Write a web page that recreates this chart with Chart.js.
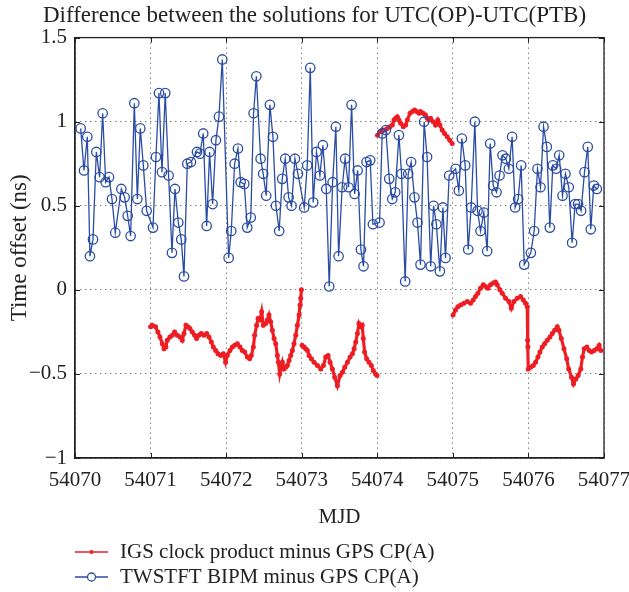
<!DOCTYPE html>
<html>
<head>
<meta charset="utf-8">
<script src="https://cdn.jsdelivr.net/npm/chart.js@4.4.0/dist/chart.umd.min.js"></script>
<style>
html, body { margin: 0; padding: 0; background: #fff; }
#wrap { width: 629px; height: 592px; }
</style>
</head>
<body>
<div id="wrap"><canvas id="chart"></canvas></div>
<script>
// IGS clock product minus GPS CP(A), null = break between daily files
const igsMjd = [
  54071.000, 54071.022, 54071.066, 54071.097, 54071.124, 54071.155, 54071.177, 54071.203, 54071.221, 54071.256,
  54071.287, 54071.318, 54071.353, 54071.389, 54071.419, 54071.442, 54071.468, 54071.494, 54071.521, 54071.552,
  54071.583, 54071.609, 54071.640, 54071.671, 54071.706, 54071.742, 54071.773, 54071.804, 54071.830, 54071.861,
  54071.892, 54071.927, 54071.962, 54071.993, 54072.015, 54072.051, 54072.082, 54072.113, 54072.148, 54072.183,
  54072.214, 54072.245, 54072.280, 54072.311, 54072.333, 54072.360, 54072.377, 54072.404, 54072.422, 54072.448,
  54072.470, 54072.492, 54072.523, 54072.545, 54072.567, 54072.589, 54072.611, 54072.634, 54072.656, 54072.678,
  54072.691, 54072.709, 54072.722, 54072.744, 54072.766, 54072.788, 54072.810, 54072.832, 54072.854, 54072.876,
  54072.898, 54072.921, 54072.943, 54072.965, 54072.978, 54072.987, 54072.996,
  54073.000,
  54073.005, 54073.031, 54073.053, 54073.075, 54073.097, 54073.128, 54073.163, 54073.208, 54073.252, 54073.287,
  54073.318, 54073.349, 54073.375, 54073.406, 54073.437, 54073.472, 54073.508, 54073.539, 54073.570, 54073.605,
  54073.640, 54073.671, 54073.693, 54073.715, 54073.737, 54073.757, 54073.779, 54073.801, 54073.815, 54073.832,
  54073.859, 54073.890, 54073.921, 54073.947, 54073.978, 54073.996,
  54074.000,
  54074.003, 54074.035, 54074.066, 54074.097, 54074.132, 54074.168, 54074.199, 54074.221, 54074.243, 54074.265,
  54074.287, 54074.309, 54074.344, 54074.375, 54074.397, 54074.433, 54074.464, 54074.494, 54074.521, 54074.552,
  54074.572, 54074.607, 54074.638, 54074.660, 54074.682, 54074.704, 54074.740, 54074.770, 54074.801, 54074.828,
  54074.859, 54074.890, 54074.925, 54074.960, 54074.991,
  54075.000,
  54075.003, 54075.035, 54075.066, 54075.102, 54075.146, 54075.190, 54075.234, 54075.269, 54075.300, 54075.331,
  54075.366, 54075.402, 54075.433, 54075.464, 54075.499, 54075.534, 54075.565, 54075.587, 54075.623, 54075.653,
  54075.698, 54075.742, 54075.773, 54075.808, 54075.852, 54075.896, 54075.932, 54075.962, 54075.985, 54075.989,
  54075.993, 54075.998, 54076.029, 54076.064, 54076.095, 54076.126, 54076.152, 54076.183, 54076.214, 54076.249,
  54076.285, 54076.316, 54076.347, 54076.382, 54076.404, 54076.435, 54076.470, 54076.506, 54076.532, 54076.570,
  54076.596, 54076.627, 54076.658, 54076.693, 54076.715, 54076.738, 54076.773, 54076.804, 54076.835, 54076.870,
  54076.905, 54076.936, 54076.958
];
const igsOffset = [
  -0.22, -0.21, -0.22, -0.25, -0.28, -0.32, -0.35, -0.34, -0.30, -0.28,
  -0.27, -0.25, -0.27, -0.28, -0.30, -0.26, -0.21, -0.22, -0.23, -0.25,
  -0.27, -0.29, -0.27, -0.26, -0.27, -0.26, -0.28, -0.31, -0.34, -0.36,
  -0.38, -0.39, -0.38, -0.43, -0.39, -0.36, -0.34, -0.33, -0.32, -0.34,
  -0.36, -0.37, -0.40, -0.41, -0.39, -0.34, -0.27, -0.21, -0.17, -0.18,
  -0.13, -0.21, -0.20, -0.18, -0.15, -0.19, -0.24, -0.29, -0.32, -0.39,
  -0.43, -0.50, -0.47, -0.43, -0.47, -0.46, -0.45, -0.42, -0.39, -0.36,
  -0.32, -0.27, -0.21, -0.15, -0.09, -0.05, 0.00,
  null,
  -0.33, -0.34, -0.35, -0.36, -0.39, -0.41, -0.43, -0.45, -0.47, -0.45,
  -0.40, -0.39, -0.43, -0.47, -0.52, -0.57, -0.51, -0.49, -0.46, -0.43,
  -0.40, -0.38, -0.35, -0.31, -0.26, -0.20, -0.22, -0.21, -0.29, -0.37,
  -0.41, -0.43, -0.45, -0.48, -0.50, -0.51,
  null,
  0.92, 0.94, 0.95, 0.95, 0.96, 0.97, 0.98, 1.01, 1.02, 1.03,
  1.01, 0.99, 0.97, 0.98, 1.01, 1.05, 1.06, 1.07, 1.06, 1.05,
  1.06, 1.05, 1.04, 1.02, 1.01, 1.02, 1.00, 0.98, 1.01, 0.98,
  0.95, 0.93, 0.91, 0.89, 0.87,
  null,
  -0.15, -0.12, -0.10, -0.09, -0.08, -0.07, -0.08, -0.06, -0.04, -0.02,
  0.01, 0.03, 0.02, 0.01, 0.03, 0.04, 0.046, 0.03, 0.00, -0.02,
  -0.05, -0.07, -0.11, -0.07, -0.05, -0.04, -0.06, -0.08, -0.10, -0.30,
  -0.34, -0.47, -0.46, -0.45, -0.43, -0.40, -0.37, -0.34, -0.32, -0.30,
  -0.28, -0.26, -0.24, -0.22, -0.24, -0.29, -0.35, -0.41, -0.47, -0.52,
  -0.56, -0.53, -0.51, -0.47, -0.40, -0.35, -0.34, -0.36, -0.37, -0.36,
  -0.35, -0.33, -0.36
];

// TWSTFT BIPM minus GPS CP(A), hourly
const twMjd = [
  54070.075, 54070.119, 54070.163, 54070.198, 54070.238, 54070.282, 54070.326, 54070.366, 54070.406, 54070.450,
  54070.489, 54070.533, 54070.613, 54070.657, 54070.697, 54070.736, 54070.785, 54070.825, 54070.864, 54070.904,
  54070.948, 54071.032, 54071.071, 54071.111, 54071.151, 54071.194, 54071.239, 54071.283, 54071.323, 54071.367,
  54071.406, 54071.442, 54071.486, 54071.534, 54071.614, 54071.653, 54071.697, 54071.742, 54071.781, 54071.821,
  54071.865, 54071.905, 54071.949, 54072.033, 54072.068, 54072.112, 54072.156, 54072.192, 54072.240, 54072.279,
  54072.326, 54072.363, 54072.400, 54072.456, 54072.490, 54072.530, 54072.579, 54072.619, 54072.659, 54072.702,
  54072.742, 54072.782, 54072.827, 54072.866, 54072.910, 54072.950, 54073.033, 54073.073, 54073.113, 54073.152,
  54073.196, 54073.241, 54073.280, 54073.325, 54073.364, 54073.409, 54073.452, 54073.488, 54073.535, 54073.574,
  54073.620, 54073.660, 54073.700, 54073.740, 54073.783, 54073.818, 54073.858, 54073.906, 54073.942, 54074.030,
  54074.065, 54074.114, 54074.158, 54074.198, 54074.237, 54074.286, 54074.321, 54074.369, 54074.409, 54074.448,
  54074.492, 54074.532, 54074.572, 54074.620, 54074.659, 54074.707, 54074.745, 54074.782, 54074.828, 54074.868,
  54074.903, 54074.951, 54075.036, 54075.079, 54075.119, 54075.163, 54075.203, 54075.242, 54075.291, 54075.327,
  54075.366, 54075.410, 54075.454, 54075.494, 54075.534, 54075.578, 54075.618, 54075.657, 54075.701, 54075.741,
  54075.784, 54075.824, 54075.864, 54075.904, 54075.944, 54076.032, 54076.076, 54076.120, 54076.160, 54076.200,
  54076.243, 54076.283, 54076.323, 54076.367, 54076.407, 54076.451, 54076.490, 54076.534, 54076.578, 54076.618,
  54076.657, 54076.697, 54076.742, 54076.785, 54076.825, 54076.865, 54076.905
];
const twOffset = [
  0.96, 0.71, 0.91, 0.20, 0.30, 0.82, 0.67, 1.05, 0.64, 0.67,
  0.54, 0.34, 0.60, 0.55, 0.44, 0.32, 1.11, 0.54, 0.96, 0.74,
  0.47, 0.37, 0.79, 1.17, 0.70, 1.17, 0.68, 0.22, 0.60, 0.40,
  0.30, 0.08, 0.75, 0.76, 0.82, 0.81, 0.93, 0.38, 0.82, 0.51,
  0.89, 1.03, 1.37, 0.19, 0.35, 0.75, 0.84, 0.64, 0.63, 0.37,
  0.43, 1.05, 1.27, 0.78, 0.69, 0.56, 1.10, 0.91, 0.50, 0.35,
  0.66, 0.78, 0.55, 0.50, 0.78, 0.69, 0.49, 0.74, 1.32, 0.52,
  0.82, 0.68, 0.86, 0.60, 0.02, 0.64, 0.97, 0.20, 0.61, 0.78,
  0.61, 1.10, 0.57, 0.71, 0.24, 0.14, 0.76, 0.77, 0.39, 0.40,
  0.93, 0.95, 0.66, 0.54, 0.58, 0.92, 0.69, 0.05, 0.69, 0.76,
  0.55, 0.40, 0.15, 1.00, 0.79, 0.14, 0.50, 0.39, 0.11, 0.49,
  0.19, 0.68, 0.72, 0.59, 0.90, 0.74, 0.24, 0.49, 1.00, 0.47,
  0.35, 0.46, 0.23, 0.87, 0.62, 0.58, 0.68, 0.80, 0.78, 0.72,
  0.91, 0.49, 0.54, 0.74, 0.15, 0.22, 0.35, 0.72, 0.61, 0.97,
  0.85, 0.37, 0.74, 0.72, 0.80, 0.56, 0.69, 0.61, 0.28, 0.51,
  0.51, 0.47, 0.70, 0.85, 0.36, 0.62, 0.60
];

const mjdTicks = [54070, 54071, 54072, 54073, 54074, 54075, 54076, 54077];
const offsetTicks = [-1, -0.5, 0, 0.5, 1, 1.5];

const FONT = '"Liberation Serif", "DejaVu Serif", serif';
const RED = '#ee1d23';
const BLUE = '#2a4ca4';

const toPoints = (xs, ys) => xs.map((x, i) => ({x, y: ys[i]}));
const fmt = (v) => (v < 0 ? '\u2212' + Math.abs(v) : String(v));

// MATLAB-style box with inward ticks
const framePlugin = {
    id: 'frame',
    afterDraw(chart) {
        const {ctx, chartArea: a, scales} = chart;
        ctx.save();
        ctx.strokeStyle = '#222';
        ctx.lineWidth = 1.3;
        ctx.strokeRect(a.left, a.top, a.right - a.left, a.bottom - a.top);
        ctx.lineWidth = 1;
        ctx.beginPath();
        mjdTicks.forEach(t => {
            const px = Math.round(scales.x.getPixelForValue(t)) + 0.5;
            ctx.moveTo(px, a.bottom); ctx.lineTo(px, a.bottom - 5);
            ctx.moveTo(px, a.top); ctx.lineTo(px, a.top + 5);
        });
        offsetTicks.forEach(t => {
            const py = Math.round(scales.y.getPixelForValue(t)) + 0.5;
            ctx.moveTo(a.left, py); ctx.lineTo(a.left + 5, py);
            ctx.moveTo(a.right, py); ctx.lineTo(a.right - 5, py);
        });
        ctx.stroke();
        ctx.restore();
    }
};

// legend under the axis, one row per series
const legendPlugin = {
    id: 'bottomLegend',
    afterDraw(chart) {
        const ctx = chart.ctx;
        const rows = [chart.data.datasets[1], chart.data.datasets[0]];
        ctx.save();
        ctx.font = '21px ' + FONT;
        ctx.textBaseline = 'middle';
        rows.forEach((ds, i) => {
            const y = 552 + i * 25;
            ctx.strokeStyle = ds.borderColor;
            ctx.lineWidth = 1.3;
            ctx.beginPath();
            ctx.moveTo(75, y); ctx.lineTo(108, y);
            ctx.stroke();
            if (ds.pointRadius > 3) {
                ctx.beginPath();
                ctx.arc(91.5, y, 4, 0, Math.PI * 2);
                ctx.fillStyle = '#fff';
                ctx.fill();
                ctx.stroke();
            } else {
                ctx.fillStyle = ds.borderColor;
                ctx.beginPath();
                ctx.arc(91.5, y, 2, 0, Math.PI * 2);
                ctx.fill();
            }
            ctx.fillStyle = '#222';
            ctx.fillText(ds.label, 120, y);
        });
        ctx.restore();
    }
};

const config = {
    type: 'line',
    plugins: [framePlugin, legendPlugin],
    data: {
        datasets: [
            {
                label: 'TWSTFT BIPM minus GPS CP(A)',
                data: toPoints(twMjd, twOffset),
                borderColor: BLUE,
                backgroundColor: 'rgba(0,0,0,0)',
                borderWidth: 1.3,
                pointStyle: 'circle',
                pointRadius: 4.7,
                pointBorderWidth: 1.3,
                pointBorderColor: BLUE,
                pointBackgroundColor: 'rgba(0,0,0,0)',
                tension: 0,
                order: 0
            },
            {
                label: 'IGS clock product minus GPS CP(A)',
                data: toPoints(igsMjd, igsOffset),
                borderColor: RED,
                backgroundColor: RED,
                borderWidth: 3.2,
                pointStyle: 'circle',
                pointRadius: 2.5,
                pointBorderWidth: 0,
                pointBackgroundColor: RED,
                spanGaps: false,
                tension: 0,
                order: 1
            }
        ]
    },
    options: {
        responsive: true,
        maintainAspectRatio: false,
        animation: false,
        layout: {
            padding: {left: 0, right: 0, top: 0, bottom: 62}
        },
        scales: {
            x: {
                type: 'linear',
                min: 54070,
                max: 54077,
                afterFit(scale) {
                    scale.height = 72;
                    scale.paddingLeft = 0;
                    scale.paddingRight = 25; // room for the last tick label
                },
                afterBuildTicks(scale) { scale.ticks = mjdTicks.map(v => ({value: v})); },
                ticks: {
                    callback: (v) => String(v),
                    color: '#222',
                    padding: 10,
                    maxRotation: 0,
                    font: {family: FONT, size: 21}
                },
                grid: {
                    color: 'rgba(0,0,0,0.75)',
                    lineWidth: 1,
                    drawTicks: false
                },
                border: {display: true, color: '#222', width: 1.3, dash: [1, 4]},
                title: {
                    display: true,
                    text: 'MJD',
                    color: '#222',
                    padding: {top: 0, bottom: 0},
                    font: {family: FONT, size: 21}
                }
            },
            y: {
                type: 'linear',
                min: -1,
                max: 1.5,
                afterFit(scale) { scale.width = 75; },
                afterBuildTicks(scale) { scale.ticks = offsetTicks.map(v => ({value: v})); },
                ticks: {
                    callback: fmt,
                    color: '#222',
                    padding: 8,
                    font: {family: FONT, size: 21}
                },
                grid: {
                    color: 'rgba(0,0,0,0.75)',
                    lineWidth: 1,
                    drawTicks: false
                },
                border: {display: true, color: '#222', width: 1.3, dash: [1, 4]},
                title: {
                    display: true,
                    text: 'Time offset (ns)',
                    color: '#222',
                    padding: {top: 6, bottom: 0},
                    font: {family: FONT, size: 23}
                }
            }
        },
        plugins: {
            legend: {display: false},
            tooltip: {enabled: false},
            title: {
                display: true,
                text: 'Difference between the solutions for UTC(OP)-UTC(PTB)',
                color: '#222',
                font: {family: FONT, size: 23, weight: 'normal'},
                padding: {top: 2, bottom: 8}
            }
        }
    }
};

new Chart(document.getElementById('chart'), config);
</script>
</body>
</html>
